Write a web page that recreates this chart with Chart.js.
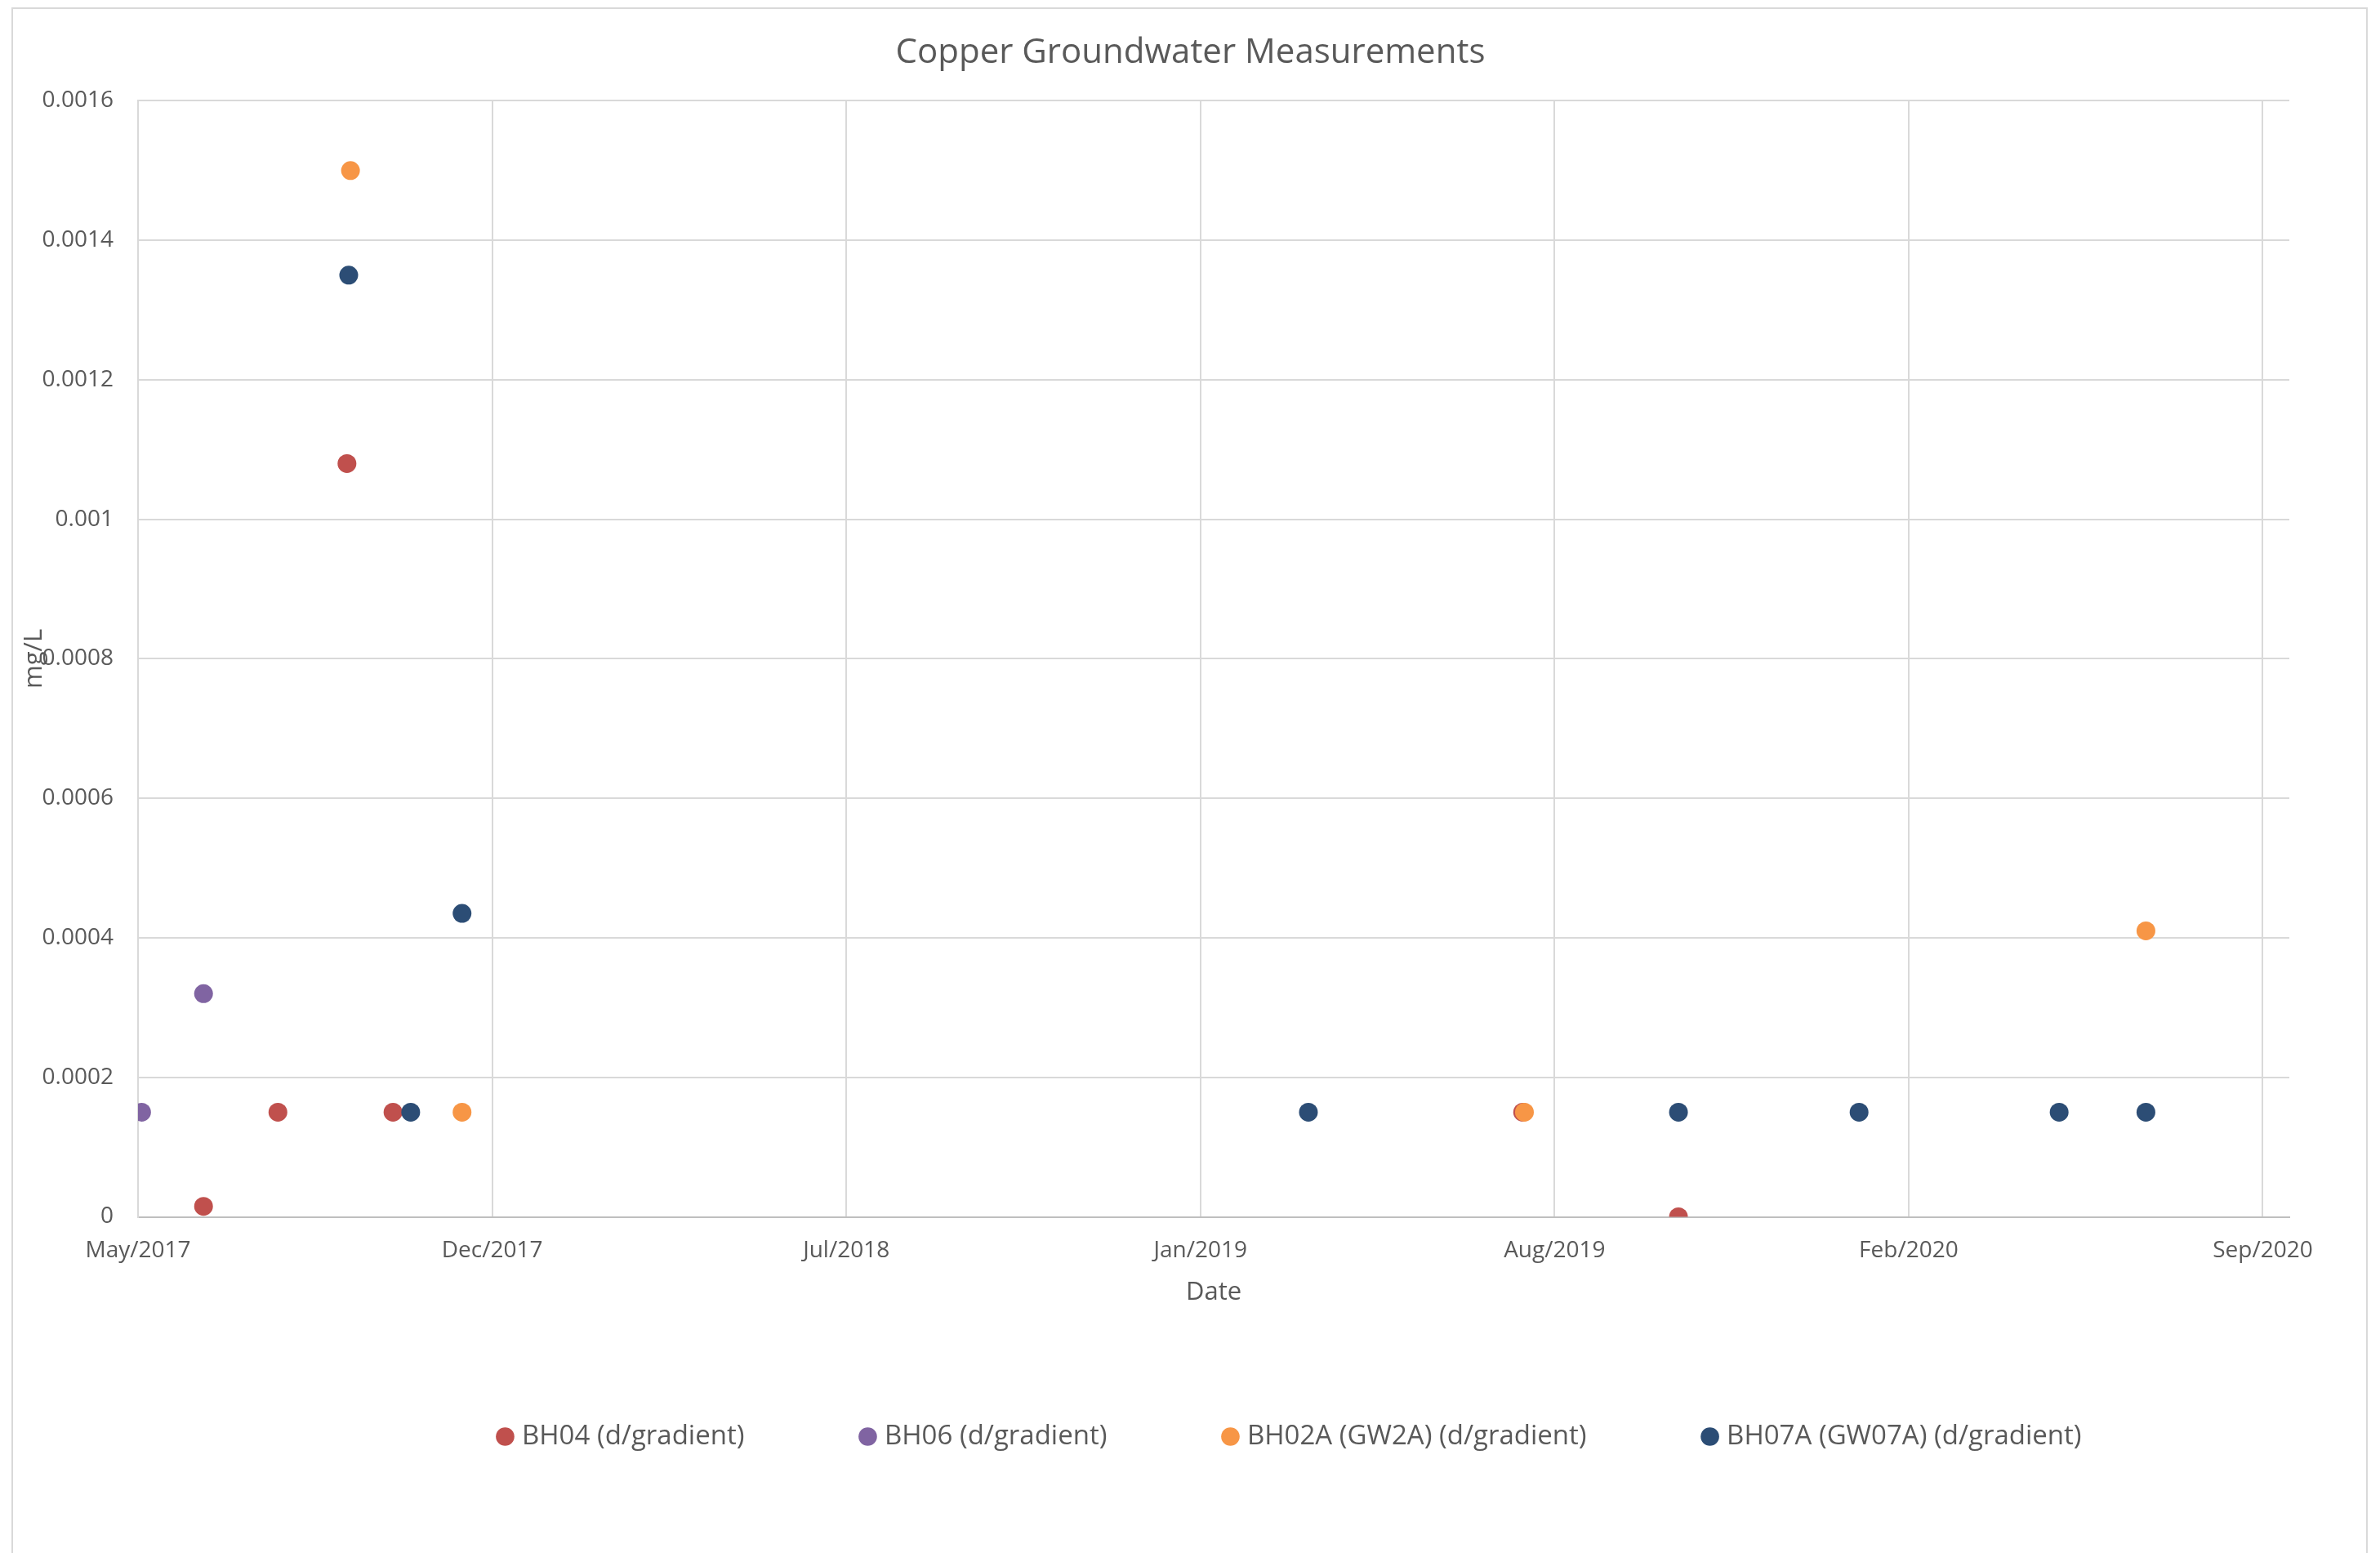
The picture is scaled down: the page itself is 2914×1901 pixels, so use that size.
<!DOCTYPE html>
<html>
<head>
<meta charset="utf-8">
<title>Copper Groundwater Measurements</title>
<script src="https://cdn.jsdelivr.net/npm/chart.js@4.4.1/dist/chart.umd.min.js"></script>
<style>
  html, body { margin: 0; padding: 0; background: #ffffff; overflow: hidden; }
  #frame {
    position: absolute; left: 14px; top: 9px; width: 2885px; height: 1960px;
    border: 2px solid #d9d9d9; box-sizing: border-box;
  }
  #wrap { position: absolute; left: 0; top: 0; width: 2914px; height: 1901px; }
</style>
</head>
<body>
<div id="frame"></div>
<div id="wrap"><canvas id="chart"></canvas></div>
<script>
  'use strict';

  // series: sampling dates and values (mg/L)
  const bh04Dates = ['2017-07-05', '2017-08-16', '2017-09-24', '2017-10-20', '2019-07-20', '2019-10-16'];
  const bh04Values = [0.000015, 0.00015, 0.00108, 0.00015, 0.00015, 0];

  const bh06Dates = ['2017-05-31', '2017-07-05'];
  const bh06Values = [0.00015, 0.00032];

  const bh02aDates = ['2017-09-26', '2017-11-28', '2019-07-21', '2020-07-06'];
  const bh02aValues = [0.0015, 0.00015, 0.00015, 0.00041];

  const bh07aDates = ['2017-09-25', '2017-10-30', '2017-11-28', '2019-03-21', '2019-10-16', '2020-01-26', '2020-05-18', '2020-07-06'];
  const bh07aValues = [0.00135, 0.00015, 0.000435, 0.00015, 0.00015, 0.00015, 0.00015, 0.00015];

  // axes
  const xMinDate = '2017-05-29';
  const xMaxDate = '2020-09-25';
  const xTickDates = ['2017-05-29', '2017-12-15', '2018-07-03', '2019-01-19', '2019-08-07', '2020-02-23', '2020-09-10'];
  const xTickLabels = ['May/2017', 'Dec/2017', 'Jul/2018', 'Jan/2019', 'Aug/2019', 'Feb/2020', 'Sep/2020'];
  const yTicks = [0, 0.0002, 0.0004, 0.0006, 0.0008, 0.001, 0.0012, 0.0014, 0.0016];
  const yTickLabels = ['0', '0.0002', '0.0004', '0.0006', '0.0008', '0.001', '0.0012', '0.0014', '0.0016'];

  const TEXT = '#595959';
  const GRID = '#d9d9d9';
  const FONT = "'Open Sans', 'Liberation Sans', sans-serif";

  function day(s) {
    const p = s.split('-');
    return Date.UTC(+p[0], +p[1] - 1, +p[2]) / 86400000;
  }

  function points(dates, values) {
    return dates.map(function (d, i) {
      return { x: day(d), y: values[i] };
    });
  }

  function series(label, dates, values, color, order) {
    return {
      label: label,
      data: points(dates, values),
      backgroundColor: color,
      borderColor: color,
      pointRadius: 11.5,
      pointHoverRadius: 11.5,
      borderWidth: 0,
      showLine: false,
      order: order,
    };
  }

  const yTitlePlugin = {
    id: 'yTitle',
    afterDraw: function (chart) {
      const ctx = chart.ctx;
      const a = chart.chartArea;
      ctx.save();
      ctx.translate(42, (a.top + a.bottom) / 2);
      ctx.rotate(-Math.PI / 2);
      ctx.fillStyle = TEXT;
      ctx.font = '31px ' + FONT;
      ctx.textAlign = 'center';
      ctx.textBaseline = 'middle';
      ctx.fillText('mg/L', 0, 0);
      ctx.restore();
    },
  };

  // Excel centres title and legend differently from the plot area; nudge them
  const blockShift = {
    id: 'blockShift',
    afterLayout: function (chart) {
      if (chart.legend) {
        chart.legend.left += 180;
        chart.legend.right += 180;
      }
      if (chart.titleBlock) {
        chart.titleBlock.left += 56;
        chart.titleBlock.right += 56;
      }
    },
  };

  const xTickValues = xTickDates.map(day);

  new Chart(document.getElementById('chart'), {
    type: 'scatter',
    data: {
      datasets: [
        series('BH04 (d/gradient)', bh04Dates, bh04Values, '#c0504d', 3),
        series('BH06 (d/gradient)', bh06Dates, bh06Values, '#8064a2', 2),
        series('BH02A (GW2A) (d/gradient)', bh02aDates, bh02aValues, '#f79646', 1),
        series('BH07A (GW07A) (d/gradient)', bh07aDates, bh07aValues, '#2c4d75', 0),
      ],
    },
    plugins: [yTitlePlugin, blockShift],
    options: {
      responsive: true,
      maintainAspectRatio: false,
      animation: false,
      layout: { padding: { left: 0, right: 111, top: 0, bottom: 116 } },
      plugins: {
        tooltip: { enabled: false },
        title: {
          display: true,
          text: 'Copper Groundwater Measurements',
          color: TEXT,
          font: { family: FONT, size: 42, weight: 'normal' },
          padding: { top: 40, bottom: 33 },
        },
        legend: {
          position: 'bottom',
          labels: {
            usePointStyle: true,
            pointStyle: 'circle',
            boxWidth: 8,
            boxHeight: 16,
            padding: 147,
            color: TEXT,
            font: { family: FONT, size: 33 },
            sort: function (a, b) { return a.datasetIndex - b.datasetIndex; },
          },
        },
      },
      scales: {
        x: {
          type: 'linear',
          min: day(xMinDate),
          max: day(xMaxDate),
          afterBuildTicks: function (scale) {
            scale.ticks = xTickValues.map(function (v) { return { value: v }; });
          },
          afterFit: function (scale) { scale.height = 105.5; },
          ticks: {
            color: TEXT,
            font: { family: FONT, size: 28 },
            padding: 25,
            maxRotation: 0,
            autoSkip: false,
            callback: function (v) {
              const i = xTickValues.indexOf(v);
              return i >= 0 ? xTickLabels[i] : '';
            },
          },
          grid: { color: GRID, lineWidth: 2, drawTicks: false },
          border: { display: true, color: '#bfbfbf', width: 2 },
          title: {
            display: true,
            text: 'Date',
            color: TEXT,
            font: { family: FONT, size: 31 },
            padding: { top: 0, bottom: -5.5 },
          },
        },
        y: {
          min: 0,
          max: 0.0016,
          afterBuildTicks: function (scale) {
            scale.ticks = yTicks.map(function (v) { return { value: v }; });
          },
          afterFit: function (scale) { scale.width = 169; },
          ticks: {
            color: TEXT,
            font: { family: FONT, size: 28 },
            padding: 30,
            callback: function (v) {
              const i = yTicks.indexOf(v);
              return i >= 0 ? yTickLabels[i] : '';
            },
          },
          grid: { color: GRID, lineWidth: 2, drawTicks: false },
          border: { display: true, color: GRID, width: 2 },
        },
      },
    },
  });
</script>
</body>
</html>
